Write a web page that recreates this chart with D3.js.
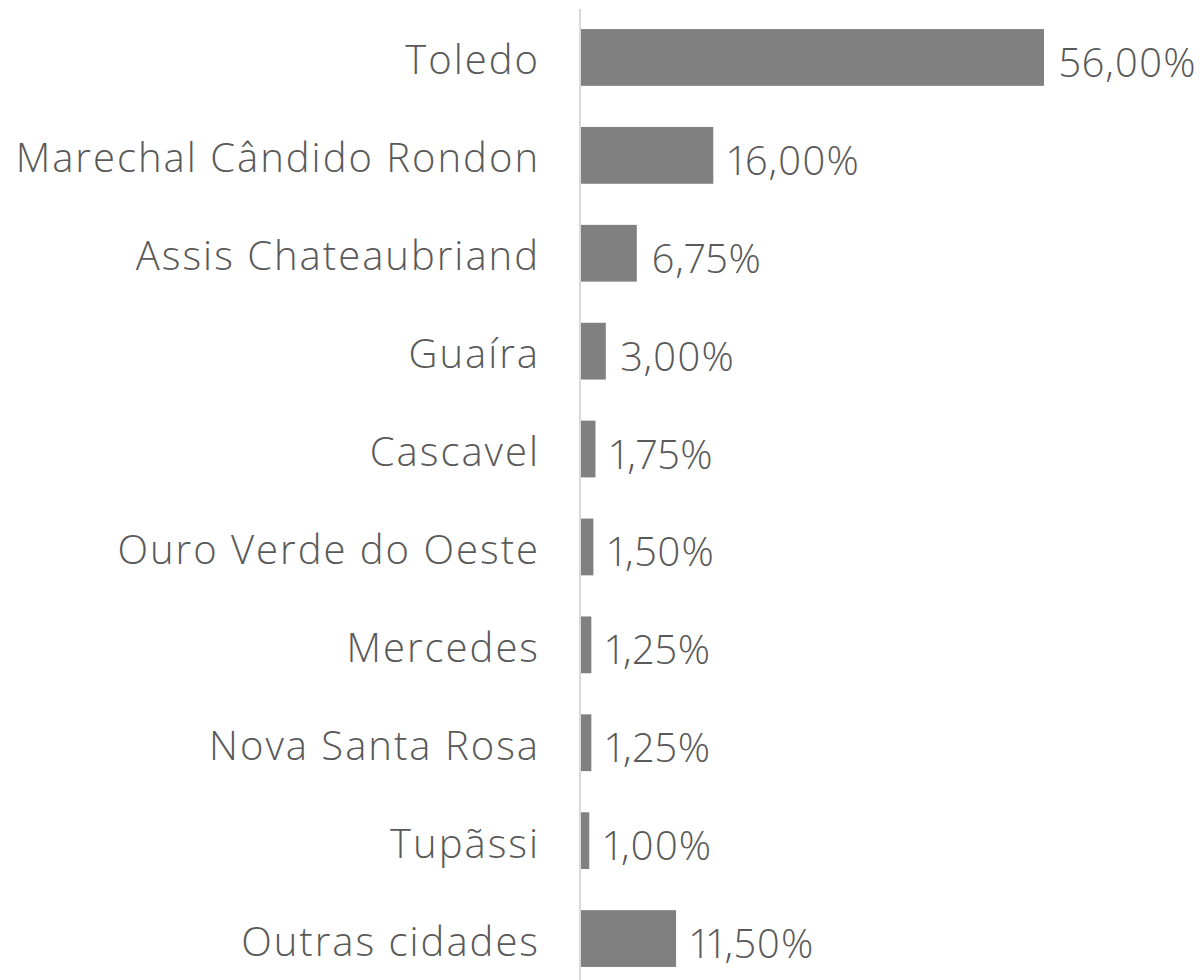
<!DOCTYPE html>
<html>
<head>
<meta charset="utf-8">
<script src="https://cdn.jsdelivr.net/npm/d3@7"></script>
<style>
  html, body { margin: 0; padding: 0; background: #ffffff; }
  svg { display: block; }
  text { font-family: "Open Sans", sans-serif; font-weight: 300; fill: #595959; }
  text.val { font-variant-numeric: proportional-nums; font-feature-settings: "pnum" 1; }
</style>
</head>
<body>
<script>
const categories = ["Toledo", "Marechal Cândido Rondon", "Assis Chateaubriand", "Guaíra", "Cascavel", "Ouro Verde do Oeste", "Mercedes", "Nova Santa Rosa", "Tupãssi", "Outras cidades"];
const values = [56.00, 16.00, 6.75, 3.00, 1.75, 1.50, 1.25, 1.25, 1.00, 11.50];
const valueLabels = ["56,00%", "16,00%", "6,75%", "3,00%", "1,75%", "1,50%", "1,25%", "1,25%", "1,00%", "11,50%"];

const W = 1204, H = 980;
const svg = d3.select("body").append("svg").attr("width", W).attr("height", H);

const x = d3.scaleLinear().domain([0, 56]).range([581, 1044]);
const y = d3.scaleBand().domain(categories).range([8.5, 987.5]).paddingInner(0.42).paddingOuter(0.21);

const data = categories.map((c, i) => ({ c, v: values[i], l: valueLabels[i] }));

svg.selectAll("rect.bar").data(data).enter().append("rect")
  .attr("class", "bar")
  .attr("x", x(0))
  .attr("y", d => y(d.c))
  .attr("width", d => x(d.v) - x(0))
  .attr("height", y.bandwidth())
  .attr("fill", "#808080");

svg.append("line")
  .attr("x1", 580).attr("x2", 580)
  .attr("y1", 9).attr("y2", H)
  .attr("stroke", "#d9d9d9").attr("stroke-width", 2);

svg.selectAll("text.cat").data(data).enter().append("text")
  .attr("class", "cat")
  .attr("x", 540)
  .attr("y", d => y(d.c) + y.bandwidth() / 2 + 17)
  .attr("text-anchor", "end")
  .attr("font-size", 40)
  .style("letter-spacing", "2px")
  .text(d => d.c);

svg.selectAll("text.val").data(data).enter().append("text")
  .attr("class", "val")
  .attr("x", d => x(d.v) + 15)
  .attr("y", d => y(d.c) + y.bandwidth() / 2 + 19.5)
  .attr("font-size", 40)
  .style("letter-spacing", "1px")
  .text(d => d.l);
</script>
</body>
</html>
